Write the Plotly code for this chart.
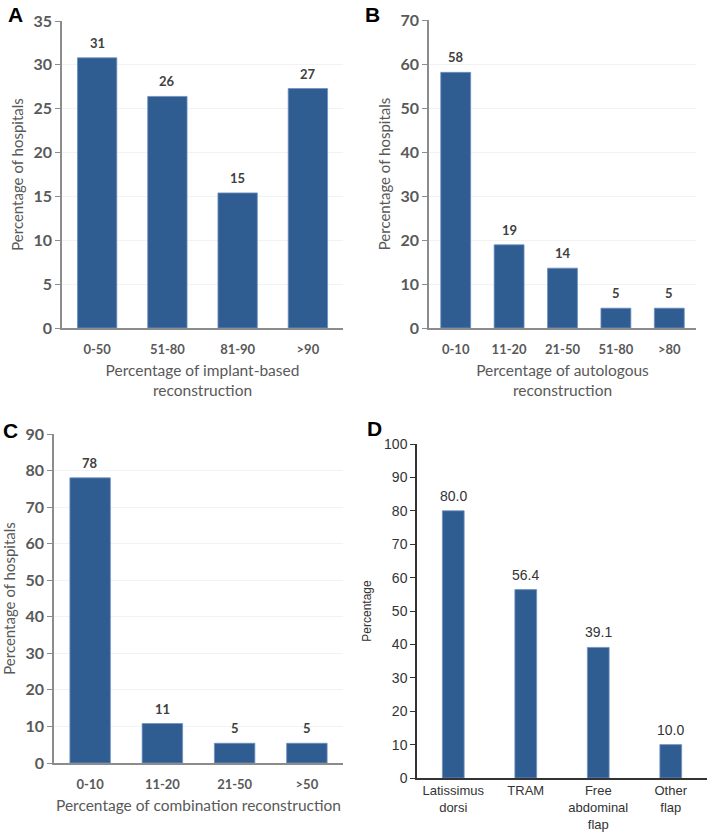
import plotly.graph_objects as go

W, H = 709, 833

# panel A
a_cats = ["0-50", "51-80", "81-90", ">90"]
a_vals = [30.8, 26.4, 15.4, 27.3]
a_text = ["31", "26", "15", "27"]

# panel B
b_cats = ["0-10", "11-20", "21-50", "51-80", ">80"]
b_vals = [58.1, 18.9, 13.6, 4.5, 4.5]
b_text = ["58", "19", "14", "5", "5"]

# panel C
c_cats = ["0-10", "11-20", "21-50", ">50"]
c_vals = [78.0, 10.8, 5.4, 5.4]
c_text = ["78", "11", "5", "5"]

# panel D
d_cats = ["Latissimus<br>dorsi", "TRAM", "Free<br>abdominal<br>flap", "Other<br>flap"]
d_vals = [80.0, 56.4, 39.1, 10.0]
d_text = ["80.0", "56.4", "39.1", "10.0"]

BAR = "#2F5D92"
GRAY = "#595959"
CAL = "Lato, 'Open Sans', sans-serif"
ARI = "'Liberation Sans', Arial, sans-serif"


def px_x(x0, x1):
    return [x0 / W, x1 / W]


def px_y(top, bottom):
    return [1 - bottom / H, 1 - top / H]


fig = go.Figure()
ann = []

panels = [
    # cats, vals, text, xdom, ydom, ymax, dtick, gap, xtitle, ytitle, style
    (a_cats, a_vals, a_text, px_x(62, 343), px_y(21, 328), 35, 5, 0.44,
     "Percentage of implant-based<br>reconstruction", "Percentage of hospitals", "cal"),
    (b_cats, b_vals, b_text, px_x(429, 696), px_y(20, 328), 70, 10, 0.44,
     "Percentage of autologous<br>reconstruction", "Percentage of hospitals", "cal"),
    (c_cats, c_vals, c_text, px_x(54, 343), px_y(434, 763), 90, 10, 0.44,
     "Percentage of combination reconstruction", "Percentage of hospitals", "cal"),
    (d_cats, d_vals, d_text, px_x(417, 707), px_y(444, 778), 100, 10, 0.70,
     "", "Percentage", "ari"),
]

layout = {}
for i, (cats, vals, text, xd, yd, ymax, dt, gap, xt, yt, st) in enumerate(panels):
    n = "" if i == 0 else str(i + 1)
    cal = st == "cal"
    fig.add_trace(go.Bar(
        x=cats, y=vals,
        marker=dict(color=BAR, line=dict(color="#6F8FBF", width=0.8)),
        width=1 - gap, xaxis="x" + n, yaxis="y" + n, showlegend=False,
    ))
    # value labels above the bars
    for c, v, t in zip(cats, vals, text):
        ann.append(dict(
            x=c, y=v, xref="x" + n, yref="y" + n, text=t, showarrow=False,
            yanchor="bottom", yshift=5,
            font=dict(family=CAL if cal else ARI, size=13 if cal else 14,
                      color="#404040" if cal else "#333333",
                      weight="bold" if cal else "normal"),
        ))
    lc = "#8C8C8C" if cal else "#333333"
    # invisible x ticks just push the category labels down a little
    layout["xaxis" + n] = dict(
        domain=xd, anchor="y" + n, showline=True, automargin=False,
        linecolor=lc, linewidth=1.5, showgrid=False,
        ticks="outside" if cal else "", ticklen=9, tickcolor="rgba(0,0,0,0)",
        tickfont=dict(family=CAL if cal else ARI, size=13,
                      color=GRAY if cal else "#333333",
                      weight="bold" if cal else "normal"),
        title=dict(text=xt, font=dict(family=CAL, size=15.5, color=GRAY), standoff=9),
    )
    layout["yaxis" + n] = dict(
        domain=yd, anchor="x" + n, range=[0, ymax], dtick=dt, automargin=False,
        showline=True, linecolor=lc, linewidth=1.5,
        ticks="outside", ticklen=5, tickcolor=lc,
        tickfont=dict(family=CAL if cal else ARI, size=16 if cal else 14,
                      color=GRAY if cal else "#333333",
                      weight="bold" if cal else "normal"),
        showgrid=cal, gridcolor="#F2F2F2", zeroline=False,
        title=dict(text=yt, font=dict(family=CAL if cal else ARI,
                                      size=15 if cal else 12,
                                      color=GRAY if cal else "#333333"),
                   standoff=6 if cal else 10),
    )

letters = [("A", 6, 1), ("B", 363, 1), ("C", 1, 417), ("D", 365, 415)]
for t, x, y in letters:
    ann.append(dict(text="<b>%s</b>" % t, x=x / W, y=1 - y / H, xref="paper", yref="paper",
                    xanchor="left", yanchor="top", showarrow=False,
                    font=dict(family=ARI, size=21, color="black")))

fig.update_layout(
    width=W, height=H, margin=dict(l=0, r=0, t=0, b=0),
    paper_bgcolor="white", plot_bgcolor="white",
    annotations=ann, bargap=0.44, **layout,
)

fig.write_html("out.html", config={"displayModeBar": False},
               post_script="document.body.style.margin='0';")
